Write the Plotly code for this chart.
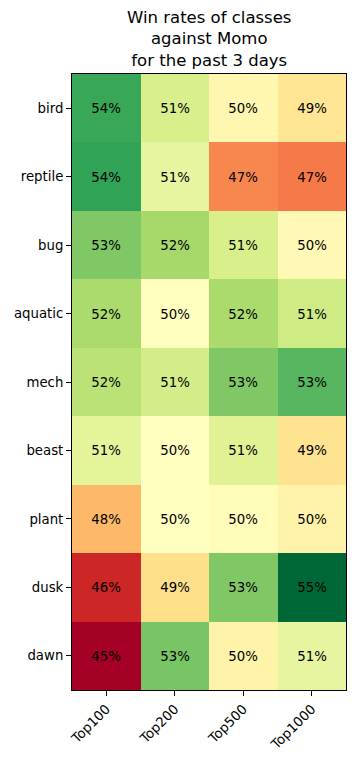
import plotly.graph_objects as go

classes = ["bird", "reptile", "bug", "aquatic", "mech", "beast", "plant", "dusk", "dawn"]
tiers = ["Top100", "Top200", "Top500", "Top1000"]

top100 = [53.6, 53.7, 52.6, 51.9, 51.6, 50.7, 48.2, 45.8, 45.0]
top200 = [51.0, 50.6, 52.0, 50.0, 51.1, 50.0, 50.0, 49.0, 52.7]
top500 = [49.7, 47.4, 51.0, 51.9, 52.6, 50.8, 49.9, 52.6, 49.6]
top1000 = [49.2, 47.2, 49.8, 51.2, 53.2, 49.1, 49.6, 55.0, 50.6]

z = [[a, b, c, d] for a, b, c, d in zip(top100, top200, top500, top1000)]

rdylgn = ["#a50026", "#d73027", "#f46d43", "#fdae61", "#fee08b", "#ffffbf",
          "#d9ef8b", "#a6d96a", "#66bd63", "#1a9850", "#006837"]
colorscale = [[i / 10, c] for i, c in enumerate(rdylgn)]

allv = top100 + top200 + top500 + top1000

fig = go.Figure(go.Heatmap(
    z=z, x=tiers, y=classes,
    colorscale=colorscale, zmin=min(allv), zmax=max(allv),
    showscale=False,
    texttemplate="%{z:.0f}%",
    textfont=dict(family="DejaVu Sans", size=13.3, color="black"),
    xgap=0, ygap=0,
))

fig.update_layout(
    width=355, height=761,
    margin=dict(l=72, r=9, t=74, b=71),
    paper_bgcolor="white", plot_bgcolor="white",
    font=dict(family="DejaVu Sans", size=13.3, color="black"),
)
fig.add_annotation(
    text="Win rates of classes<br>against Momo<br>for the past 3 days",
    x=0.5, xref="paper", xanchor="center",
    y=1, yref="paper", yanchor="bottom", yshift=2,
    showarrow=False,
    font=dict(family="DejaVu Sans", size=16.5, color="black"),
)
fig.update_xaxes(
    showline=True, linecolor="black", linewidth=1, mirror=True,
    ticks="outside", ticklen=5, tickcolor="black", tickangle=-45,
    showgrid=False, zeroline=False,
)
fig.update_yaxes(
    showline=True, linecolor="black", linewidth=1, mirror=True,
    ticks="outside", ticklen=5, tickcolor="black",
    autorange="reversed", showgrid=False, zeroline=False,
)

fig.write_html("out.html")
